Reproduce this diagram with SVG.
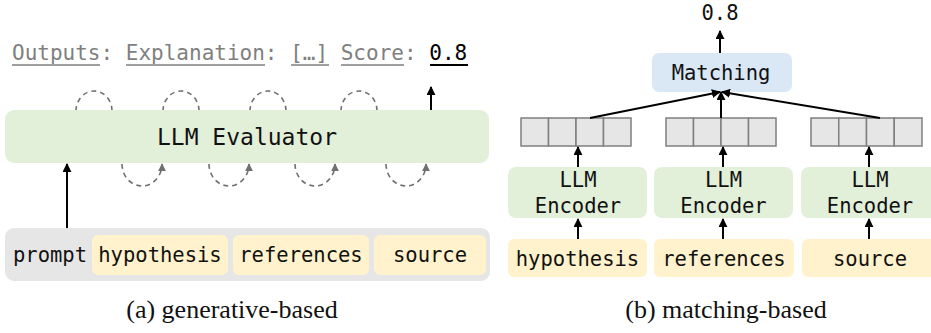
<svg xmlns="http://www.w3.org/2000/svg" width="931" height="333" viewBox="0 0 931 333">
<style>
.mono{font-family:"DejaVu Sans Mono","Liberation Mono",monospace;font-size:20.5px;fill:#111}
.cap{font-family:"Liberation Serif","Times New Roman",serif;font-size:26px;fill:#111}
.green{fill:#e2efd9}
.yellow{fill:#fff2cc}
.cell{fill:#e6e6e6;stroke:#7f7f7f;stroke-width:1.5}
.arrow{stroke:#000;stroke-width:2;fill:none;marker-end:url(#ah)}
.loop{stroke:#707070;stroke-width:1.6;fill:none;stroke-dasharray:5 4}
.ul{stroke:#7f7f7f;stroke-width:1.5}
</style>
<defs>
<marker id="ah" viewBox="0 0 10 10" refX="9" refY="5" markerWidth="9" markerHeight="9" markerUnits="userSpaceOnUse" orient="auto">
<path d="M0,0 L10,5 L0,10 z" fill="#000"/>
</marker>
<marker id="ahg" viewBox="0 0 10 10" refX="9" refY="5" markerWidth="8" markerHeight="8" markerUnits="userSpaceOnUse" orient="auto">
<path d="M0,0 L10,5 L0,10 z" fill="#707070"/>
</marker>
</defs>

<!-- (a) generative-based -->
<g id="outputs">
<text x="12" y="60" font-family="DejaVu Sans Mono,Liberation Mono,monospace" font-size="21" fill="#7f7f7f">Outputs: Explanation: […] Score: <tspan fill="#000">0.8</tspan></text>
<line class="ul" x1="12" y1="65" x2="100" y2="65"/>
<line class="ul" x1="126" y1="65" x2="265" y2="65"/>
<line class="ul" x1="291" y1="65" x2="329" y2="65"/>
<line class="ul" x1="341" y1="65" x2="404" y2="65"/>
<line x1="430" y1="65" x2="468" y2="65" stroke="#000" stroke-width="2"/>
</g>

<g id="loops">
<path class="loop" d="M76,111 A18,20 0 0 1 112,111"/>
<path class="loop" d="M163,111 A18,20 0 0 1 199,111"/>
<path class="loop" d="M250,111 A18,20 0 0 1 286,111"/>
<path class="loop" d="M341,111 A18,20 0 0 1 377,111"/>
<path class="loop" d="M122,164 A20,22 0 0 0 162,164" marker-end="url(#ahg)"/>
<path class="loop" d="M209,164 A20,22 0 0 0 249,164" marker-end="url(#ahg)"/>
<path class="loop" d="M295,164 A20,22 0 0 0 335,164" marker-end="url(#ahg)"/>
<path class="loop" d="M386,164 A20,22 0 0 0 426,164" marker-end="url(#ahg)"/>
</g>

<g id="evaluator">
<rect class="green" x="5" y="110" width="484" height="53" rx="9"/>
<text class="mono" x="247" y="145" text-anchor="middle" style="font-size:23px">LLM Evaluator</text>
</g>

<g id="prompt">
<rect x="5" y="228" width="485" height="53" rx="9" fill="#e6e6e6"/>
<text class="mono" x="13" y="262">prompt</text>
</g>
<g id="hypothesis-a">
<rect class="yellow" x="92" y="235" width="136" height="40" rx="6"/>
<text class="mono" x="160" y="262" text-anchor="middle">hypothesis</text>
</g>
<g id="references-a">
<rect class="yellow" x="233" y="235" width="136" height="40" rx="6"/>
<text class="mono" x="301" y="262" text-anchor="middle">references</text>
</g>
<g id="source-a">
<rect class="yellow" x="374" y="235" width="112" height="40" rx="6"/>
<text class="mono" x="430" y="262" text-anchor="middle">source</text>
</g>

<!-- (b) matching-based -->
<g id="score-b">
<text class="mono" x="720" y="20" text-anchor="middle">0.8</text>
</g>
<g id="matching">
<rect x="652" y="53" width="140" height="39" rx="7" fill="#dae8f5"/>
<text class="mono" x="721" y="80" text-anchor="middle">Matching</text>
</g>

<g id="vec1">
<rect class="cell" x="521" y="118" width="27.5" height="28"/>
<rect class="cell" x="548.5" y="118" width="27.5" height="28"/>
<rect class="cell" x="576" y="118" width="27.5" height="28"/>
<rect class="cell" x="603.5" y="118" width="27.5" height="28"/>
</g>
<g id="vec2">
<rect class="cell" x="666" y="118" width="27.5" height="28"/>
<rect class="cell" x="693.5" y="118" width="27.5" height="28"/>
<rect class="cell" x="721" y="118" width="27.5" height="28"/>
<rect class="cell" x="748.5" y="118" width="27.5" height="28"/>
</g>
<g id="vec3">
<rect class="cell" x="811" y="118" width="27.75" height="28"/>
<rect class="cell" x="838.75" y="118" width="27.75" height="28"/>
<rect class="cell" x="866.5" y="118" width="27.75" height="28"/>
<rect class="cell" x="894.25" y="118" width="27.75" height="28"/>
</g>

<g id="enc1">
<rect class="green" x="508" y="167" width="139" height="51" rx="8"/>
<text class="mono" x="578" y="187" text-anchor="middle">LLM</text>
<text class="mono" x="578" y="213" text-anchor="middle">Encoder</text>
</g>
<g id="enc2">
<rect class="green" x="654" y="167" width="139" height="51" rx="8"/>
<text class="mono" x="723.5" y="187" text-anchor="middle">LLM</text>
<text class="mono" x="723.5" y="213" text-anchor="middle">Encoder</text>
</g>
<g id="enc3">
<rect class="green" x="801" y="167" width="140" height="51" rx="8"/>
<text class="mono" x="870" y="187" text-anchor="middle">LLM</text>
<text class="mono" x="870" y="213" text-anchor="middle">Encoder</text>
</g>

<g id="hypothesis-b">
<rect class="yellow" x="508" y="239" width="139" height="38" rx="6"/>
<text class="mono" x="577.5" y="266" text-anchor="middle">hypothesis</text>
</g>
<g id="references-b">
<rect class="yellow" x="654" y="239" width="140" height="38" rx="6"/>
<text class="mono" x="724" y="266" text-anchor="middle">references</text>
</g>
<g id="source-b">
<rect class="yellow" x="802" y="239" width="140" height="38" rx="6"/>
<text class="mono" x="870" y="266" text-anchor="middle">source</text>
</g>

<g id="connectors">
<line class="arrow" x1="431" y1="110" x2="431" y2="87"/>
<line class="arrow" x1="67" y1="228" x2="67" y2="164"/>
<line class="arrow" x1="720" y1="53" x2="720" y2="31"/>
<line class="arrow" x1="590" y1="118" x2="720" y2="92"/>
<line class="arrow" x1="721" y1="118" x2="721" y2="92"/>
<line class="arrow" x1="880" y1="118" x2="722" y2="92"/>
<line class="arrow" x1="578" y1="167" x2="578" y2="147"/>
<line class="arrow" x1="723" y1="167" x2="723" y2="147"/>
<line class="arrow" x1="869" y1="167" x2="869" y2="147"/>
<line class="arrow" x1="578" y1="239" x2="578" y2="219"/>
<line class="arrow" x1="723" y1="239" x2="723" y2="219"/>
<line class="arrow" x1="869" y1="239" x2="869" y2="219"/>
</g>

<text class="cap" x="232" y="318" text-anchor="middle">(a) generative-based</text>
<text class="cap" x="726" y="318" text-anchor="middle">(b) matching-based</text>
</svg>
